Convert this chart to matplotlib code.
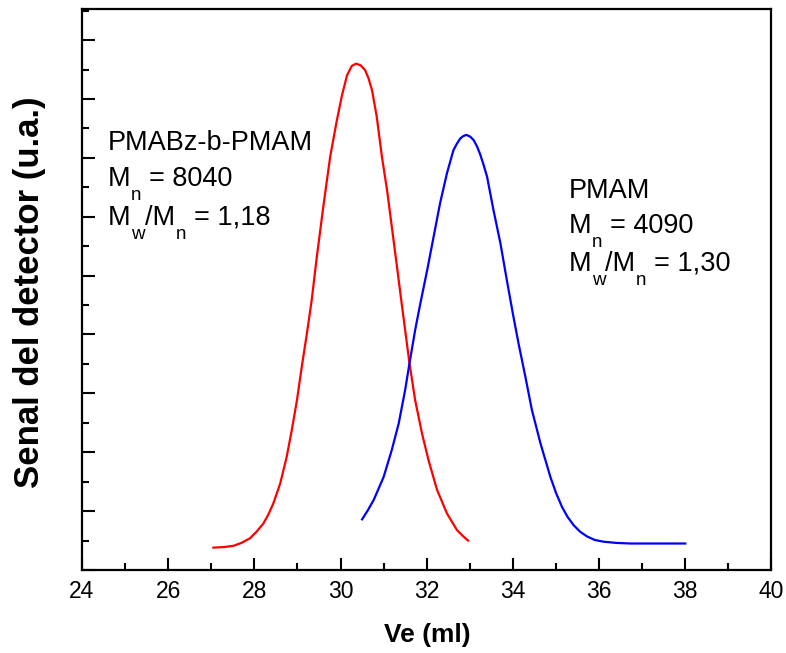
import matplotlib
matplotlib.use("Agg")
import matplotlib.pyplot as plt
from matplotlib.ticker import MultipleLocator, NullFormatter
from matplotlib.transforms import offset_copy

plt.rcParams['font.family'] = ['Liberation Sans', 'DejaVu Sans']

# PMABz-b-PMAM trace
ve_block = [27.05, 27.30, 27.51, 27.70, 27.90, 28.05, 28.21, 28.33, 28.44, 28.60,
            28.75, 28.87, 28.99, 29.10, 29.22, 29.33, 29.45, 29.60, 29.76, 29.91,
            30.03, 30.15, 30.26, 30.36, 30.47, 30.57, 30.65, 30.73, 30.84, 30.96,
            31.08, 31.19, 31.31, 31.42, 31.60, 31.73, 31.89, 32.04, 32.24, 32.47,
            32.70, 32.85, 32.96]
sig_block = [0.38, 0.39, 0.41, 0.46, 0.54, 0.65, 0.79, 0.95, 1.13, 1.47,
             1.92, 2.38, 2.89, 3.45, 4.02, 4.58, 5.32, 6.17, 7.02, 7.62,
             8.05, 8.40, 8.56, 8.60, 8.57, 8.49, 8.35, 8.15, 7.70, 7.02,
             6.45, 5.83, 5.15, 4.52, 3.51, 2.89, 2.32, 1.87, 1.36, 0.96,
             0.68, 0.57, 0.50]

# PMAM trace
ve_pmam = [30.50, 30.63, 30.77, 31.00, 31.19, 31.35, 31.50, 31.60, 31.73, 31.85,
           32.01, 32.16, 32.31, 32.47, 32.62, 32.70, 32.78, 32.85, 32.92, 33.01,
           33.09, 33.17, 33.24, 33.32, 33.40, 33.55, 33.71, 33.86, 34.00, 34.13,
           34.29, 34.44, 34.64, 34.87, 35.00, 35.14, 35.27, 35.41, 35.56, 35.72,
           35.90, 36.11, 36.40, 36.73, 37.19, 37.60, 38.00]
sig_pmam = [0.86, 1.01, 1.19, 1.58, 2.04, 2.49, 3.06, 3.51, 4.07, 4.52,
            5.09, 5.66, 6.23, 6.74, 7.13, 7.24, 7.33, 7.37, 7.39, 7.36,
            7.30, 7.19, 7.06, 6.88, 6.68, 6.11, 5.55, 4.92, 4.35, 3.85,
            3.28, 2.72, 2.15, 1.58, 1.31, 1.07, 0.90, 0.76, 0.65, 0.57,
            0.51, 0.48, 0.46, 0.45, 0.45, 0.45, 0.45]

fig = plt.figure(figsize=(7.86, 6.53), dpi=100)
ax = fig.add_axes([0.1043, 0.1271, 0.8772, 0.8584])

ax.plot(ve_block, sig_block, color='#ff0000', lw=1.6)
ax.plot(ve_pmam, sig_pmam, color='#0000ff', lw=1.6)

ax.set_xlim(24, 40)
ax.set_ylim(0, 9.52)
ax.xaxis.set_major_locator(MultipleLocator(2))
ax.xaxis.set_minor_locator(MultipleLocator(1))
ax.yaxis.set_major_locator(MultipleLocator(1))
ax.yaxis.set_minor_locator(MultipleLocator(0.5))
ax.yaxis.set_major_formatter(NullFormatter())
ax.tick_params(which='both', direction='in', top=False, right=False, width=1.5)
ax.tick_params(which='major', length=9)
ax.tick_params(which='minor', length=5)
ax.tick_params(axis='x', labelsize=16.5, pad=7)
for s in ax.spines.values():
    s.set_linewidth(1.6)

fig.text(427 / 786, 1 - 635 / 653, 'Ve (ml)', fontsize=19, fontweight='bold',
         ha='center', va='center')
fig.text(30 / 786, 1 - 292 / 653, 'Senal del detector (u.a.)', fontsize=25,
         fontweight='bold', rotation=90, ha='center', va='center')

# anotaciones con subindices bajo la linea base
fs = 19.5
fs_sub = 13.5
drop = 10
renderer = fig.canvas.get_renderer()


def write_line(x, y, pieces):
    dx = 0.0
    for txt, sub, gap in pieces:
        tr = offset_copy(ax.transData, fig=fig, x=dx, y=-drop if sub else 0,
                         units='points')
        t = ax.text(x, y, txt, fontsize=fs_sub if sub else fs, transform=tr)
        dx += t.get_window_extent(renderer).width * 72 / fig.dpi + gap


sp = 0.28 * fs
write_line(24.60, 7.13, [('PMABz-b-PMAM', False, 0)])
write_line(24.60, 6.52, [('M', False, 0.5), ('n', True, sp), ('= 8040', False, 0)])
write_line(24.60, 5.86, [('M', False, 0.5), ('w', True, 0), ('/M', False, 0.5),
                         ('n', True, sp), ('= 1,18', False, 0)])
write_line(35.29, 6.32, [('PMAM', False, 0)])
write_line(35.29, 5.72, [('M', False, 0.5), ('n', True, sp), ('= 4090', False, 0)])
write_line(35.29, 5.08, [('M', False, 0.5), ('w', True, 0), ('/M', False, 0.5),
                         ('n', True, sp), ('= 1,30', False, 0)])

fig.savefig('out.png', dpi=100)
